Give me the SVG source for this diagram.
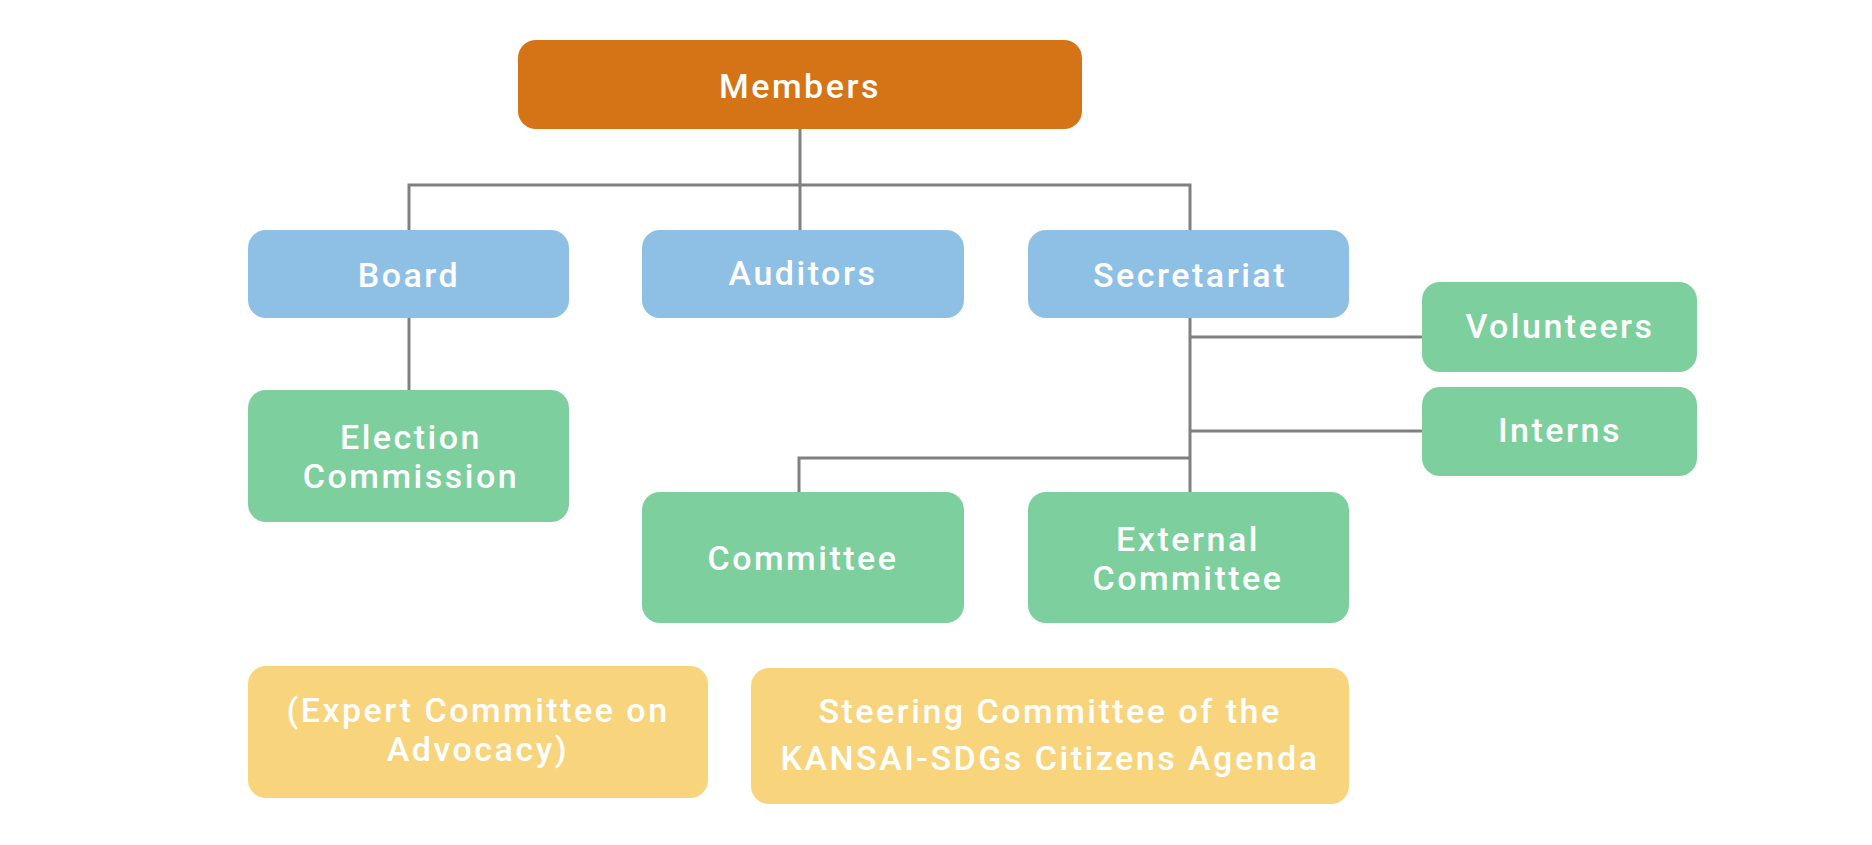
<svg xmlns="http://www.w3.org/2000/svg" width="1872" height="845" viewBox="0 0 1872 845">
<style>
.t{font-family:Roboto,"Noto Sans","Liberation Sans",sans-serif;font-size:34px;font-weight:500;fill:#ffffff;text-anchor:middle;letter-spacing:2.5px}
.c{stroke:#808080;stroke-width:3;fill:none}
.o{fill:#D47416}.b{fill:#8EC0E6}.g{fill:#7DCF9E}.y{fill:#F8D47C}
</style>
<rect width="1872" height="845" fill="#ffffff"/>
<g id="connectors">
<path class="c" d="M800,129V185M409,230V185H1190V230M800,185V230"/>
<path class="c" d="M409,318V390"/>
<path class="c" d="M1190,317V492M1190,337H1422M1190,431H1422M1190,458H799V492"/>
</g>
<g id="members"><rect class="o" x="518" y="40" width="564" height="89" rx="18"/><text class="t" x="800" y="98">Members</text></g>
<g id="board"><rect class="b" x="248" y="230" width="321" height="88" rx="18"/><text class="t" x="409" y="287">Board</text></g>
<g id="auditors"><rect class="b" x="642" y="230" width="322" height="88" rx="18"/><text class="t" x="803" y="285">Auditors</text></g>
<g id="secretariat"><rect class="b" x="1028" y="230" width="321" height="88" rx="18"/><text class="t" x="1190" y="287">Secretariat</text></g>
<g id="volunteers"><rect class="g" x="1422" y="282" width="275" height="90" rx="18"/><text class="t" x="1560" y="338">Volunteers</text></g>
<g id="interns"><rect class="g" x="1422" y="387" width="275" height="89" rx="18"/><text class="t" x="1560" y="442">Interns</text></g>
<g id="election"><rect class="g" x="248" y="390" width="321" height="132" rx="18"/><text class="t"><tspan x="411" y="449">Election</tspan><tspan x="411" y="488">Commission</tspan></text></g>
<g id="committee"><rect class="g" x="642" y="492" width="322" height="131" rx="18"/><text class="t" x="803" y="570">Committee</text></g>
<g id="external"><rect class="g" x="1028" y="492" width="321" height="131" rx="18"/><text class="t"><tspan x="1188" y="551">External</tspan><tspan x="1188" y="590">Committee</tspan></text></g>
<g id="expert"><rect class="y" x="248" y="666" width="460" height="132" rx="18"/><text class="t"><tspan x="478" y="722">(Expert Committee on</tspan><tspan x="478" y="761">Advocacy)</tspan></text></g>
<g id="steering"><rect class="y" x="751" y="668" width="598" height="136" rx="18"/><text class="t"><tspan x="1050" y="723">Steering Committee of the</tspan><tspan x="1050" y="770">KANSAI-SDGs Citizens Agenda</tspan></text></g>
</svg>
